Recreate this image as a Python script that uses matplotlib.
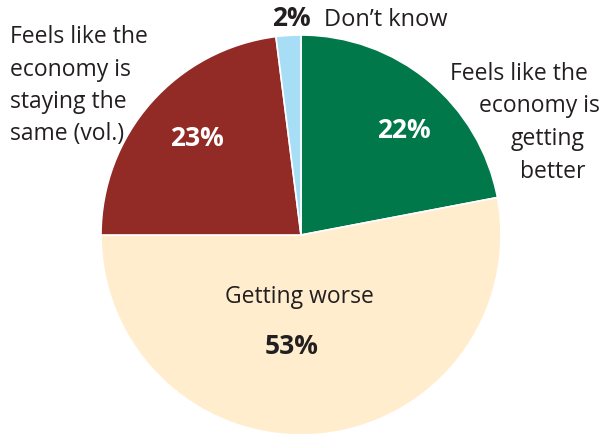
import numpy as np
import matplotlib
matplotlib.use("Agg")
import matplotlib.pyplot as plt

plt.rcParams['font.family'] = ['Open Sans', 'DejaVu Sans']

# Data (clockwise from 12 o'clock)
categories = ["Feels like the economy is getting better", "Getting worse",
              "Feels like the economy is staying the same (vol.)", "Don\u2019t know"]
values = [22, 53, 23, 2]
colors = ["#00784A", "#FFEDCE", "#922A26", "#A8DDF6"]
pct_labels = [f"{v}%" for v in values]

W, H = 602, 435
fig = plt.figure(figsize=(W / 100, H / 100), dpi=100)
ax = fig.add_axes([0, 0, 1, 1])

cx, cy, r = 301, H - 236, 200
ax.pie(values, colors=colors, startangle=90, counterclock=False,
       center=(cx, cy), radius=r,
       wedgeprops=dict(edgecolor="white", linewidth=1.2))

ax.set_xlim(0, W)
ax.set_ylim(0, H)
ax.set_aspect("equal")
ax.axis("off")

txt = "#231F20"
fs = 16.5
pfs = 19

def y(p):
    return H - p

# percentage labels
ax.text(404, y(131), pct_labels[0], color="white", fontsize=pfs, fontweight="bold", ha="center", va="center")
ax.text(292, y(347), pct_labels[1], color=txt, fontsize=pfs, fontweight="bold", ha="center", va="center")
ax.text(197, y(139), pct_labels[2], color="white", fontsize=pfs, fontweight="bold", ha="center", va="center")
ax.text(291, y(18), pct_labels[3], color=txt, fontsize=pfs, fontweight="bold", ha="center", va="center")

# category labels
ax.text(324, y(20), categories[3], color=txt, fontsize=fs + 0.5, ha="left", va="center")
ax.text(299, y(297), categories[1], color=txt, fontsize=fs, ha="center", va="center")

left_lines = ["Feels like the", "economy is", "staying the", "same (vol.)"]
for i, line in enumerate(left_lines):
    ax.text(10, y(37 + i * 32.5), line, color=txt, fontsize=fs, ha="left", va="center")

right_lines = ["Feels like the", "economy is", "getting", "better"]
right_x = [588, 600, 585, 585]
for i, line in enumerate(right_lines):
    ax.text(right_x[i], y(74 + i * 32.5), line, color=txt, fontsize=fs, ha="right", va="center")

fig.savefig("out.png", dpi=100)
